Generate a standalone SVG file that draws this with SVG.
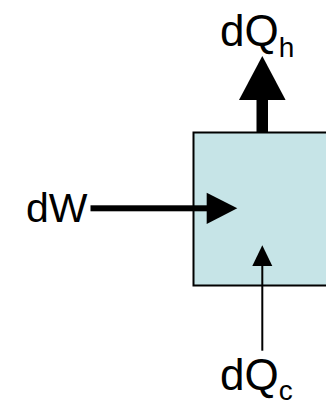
<svg xmlns="http://www.w3.org/2000/svg" width="326" height="407" viewBox="0 0 326 407">
  <style>
    .lbl { font-family: "Liberation Sans", Arial, sans-serif; font-size: 44px; fill: #000; }
    .w { font-size: 41px; }
    .sub { font-size: 28px; }
  </style>
  <rect width="326" height="407" fill="#fff"/>
  <g id="system">
    <rect x="193.5" y="132.5" width="140" height="153" fill="#C6E4E7" stroke="#000" stroke-width="2"/>
  </g>
  <g id="connectors">
    <!-- heat out, top -->
    <rect x="256.5" y="99" width="11.5" height="33" fill="#000"/>
    <polygon points="262.3,56 239,100 285.6,100" fill="#000"/>
    <!-- work in, left -->
    <rect x="90.5" y="205.3" width="117" height="6" fill="#000"/>
    <polygon points="206.7,192.7 237.3,208.3 206.7,223.9" fill="#000"/>
    <!-- heat in, bottom -->
    <line x1="262.3" y1="350.7" x2="262.3" y2="264" stroke="#000" stroke-width="2"/>
    <polygon points="262.3,245.3 252.3,266 272.3,266" fill="#000"/>
  </g>
  <g id="label-qh">
    <text class="lbl" x="220" y="46">dQ<tspan class="sub" dy="11">h</tspan></text>
  </g>
  <g id="label-w">
    <text class="lbl w" x="26" y="222">dW</text>
  </g>
  <g id="label-qc">
    <text class="lbl" x="220" y="390">dQ<tspan class="sub" dy="10">c</tspan></text>
  </g>
</svg>
